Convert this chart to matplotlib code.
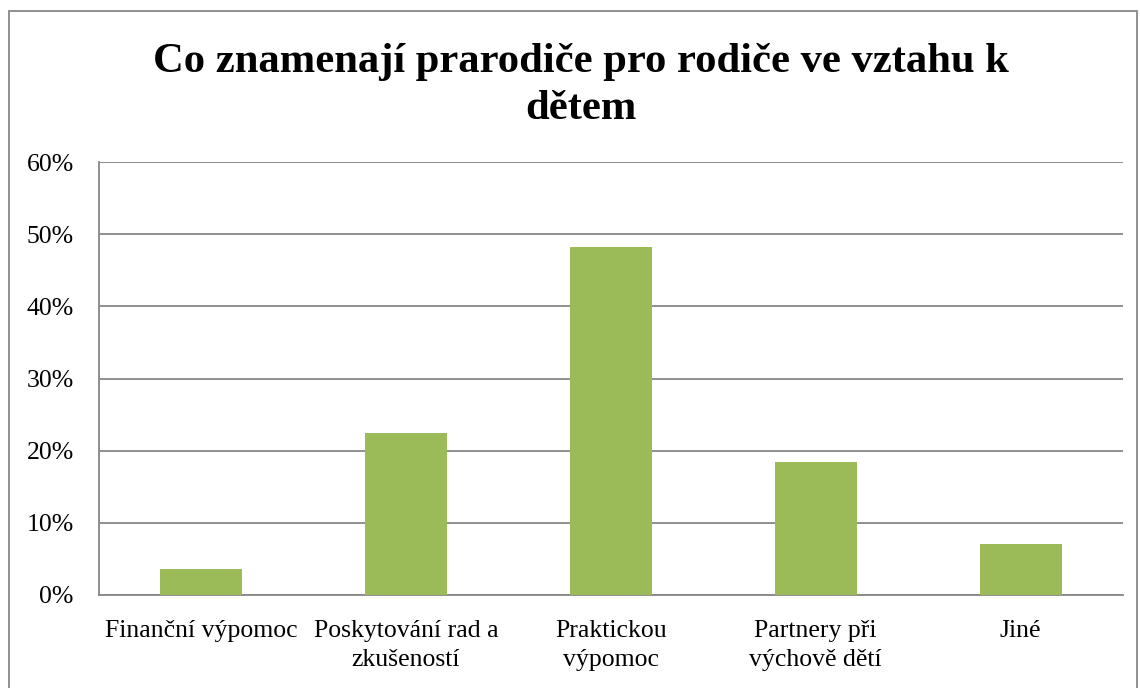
import matplotlib
matplotlib.use("Agg")
import matplotlib.pyplot as plt
from matplotlib.patches import Rectangle
from matplotlib.ticker import FuncFormatter, MultipleLocator

categories = ["Finanční výpomoc", "Poskytování rad a\nzkušeností", "Praktickou\nvýpomoc",
              "Partnery při\nvýchově dětí", "Jiné"]
values = [0.035, 0.225, 0.482, 0.184, 0.071]
title_lines = ["Co znamenají prarodiče pro rodiče ve vztahu k", "dětem"]

plt.rcParams['font.family'] = ['Liberation Serif', 'DejaVu Serif']

W, H = 1140, 688
fig = plt.figure(figsize=(W/100, H/100), dpi=100)
ax = fig.add_axes([98.7/W, (H-594.7)/H, (1123-98.7)/W, (594.7-162.3)/H])

x = range(len(categories))
ax.bar(x, values, width=0.4, color="#9BBB59", zorder=3)
ax.set_xlim(-0.5, len(categories)-0.5)
ax.set_ylim(0, 0.6)
ax.yaxis.set_major_locator(MultipleLocator(0.1))
ax.yaxis.set_major_formatter(FuncFormatter(lambda v, p: f"{v*100:.0f}%"))
ax.grid(axis='y', color="#878787", linewidth=1.3, zorder=0)
ax.set_xticks(list(x))
ax.set_xticklabels(categories, fontsize=18.5, linespacing=1.43)
ax.tick_params(axis='x', length=0, pad=18)
ax.tick_params(axis='y', length=0, pad=18, labelsize=18.5)
for s in ['top', 'right']:
    ax.spines[s].set_visible(False)
for s in ['left', 'bottom']:
    ax.spines[s].set_color("#878787")
    ax.spines[s].set_linewidth(1.3)

for line, base in zip(title_lines, [72, 119]):
    fig.text(581/W, (H-base)/H, line, ha='center', va='baseline', fontsize=30.7,
             fontweight='bold')

fig.patches.append(Rectangle((9/W, -0.05), (1137-9)/W, (H-11)/H + 0.05,
                             transform=fig.transFigure, fill=False,
                             edgecolor="#878787", linewidth=1.3))

fig.savefig("out.png", dpi=100)
